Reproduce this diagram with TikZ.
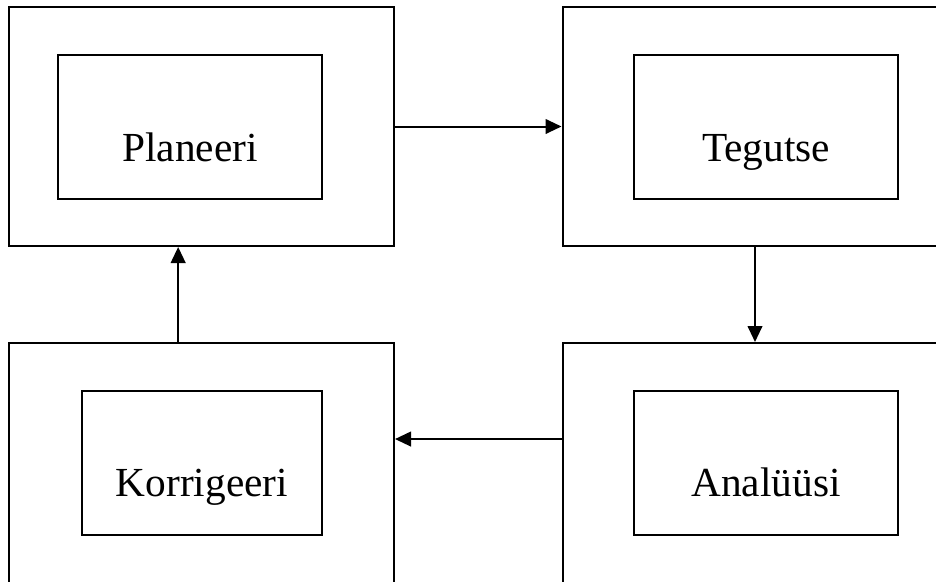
\documentclass[tikz,border=0pt]{standalone}
\usepackage{fontspec}
\setmainfont{Liberation Serif}
\usetikzlibrary{arrows.meta}

\tikzset{
    outerbox/.style={draw, line width=1.5pt, minimum width=288.75pt, minimum height=179.25pt, inner sep=0pt},
    innerbox/.style={draw, line width=1.5pt, minimum height=108pt, inner sep=0pt},
    lbl/.style={anchor=base, inner sep=0pt, font=\fontsize{31}{36}\selectfont},
    arr/.style={line width=1.5pt, -{Triangle[length=12pt, width=11pt]}}
}

\begin{document}
\begin{tikzpicture}[x=0.75pt, y=-0.75pt]

        \useasboundingbox (0,0) rectangle (936,582);
        \clip (0,0) rectangle (936,582);

        \node[outerbox] (plan) at (201.5,126.5) {};
        \node[outerbox] (act) at (755,126.5) {};
        \node[outerbox, minimum height=182.25pt] (fix) at (201.5,464.5) {};
        \node[outerbox, minimum height=182.25pt] (check) at (755,464.5) {};

        \node[innerbox, minimum width=198pt] (planin) at (190,127) {};
        \node[innerbox, minimum width=198pt] (actin) at (766,127) {};
        \node[innerbox, minimum width=180pt] (fixin) at (202,463) {};
        \node[innerbox, minimum width=198pt] (checkin) at (766,463) {};

        \node[lbl] (plantext) at (190,161) {Planeeri};
        \node[lbl] (acttext) at (766,161) {Tegutse};
        \node[lbl] (fixtext) at (202,496) {Korrigeeri};
        \node[lbl] (checktext) at (766,496) {Analüüsi};

        \draw[arr] (plan.east) -- (act.west);
        \draw[arr] (act.south) -- (check.north);
        \draw[arr] ([yshift=19.1pt]check.west) -- ([yshift=19.1pt]check.west -| fix.east);
        \draw[arr] ([xshift=-17.5pt]fix.north) -- ([xshift=-17.5pt]fix.north |- plan.south);

    \end{tikzpicture}
\end{document}
